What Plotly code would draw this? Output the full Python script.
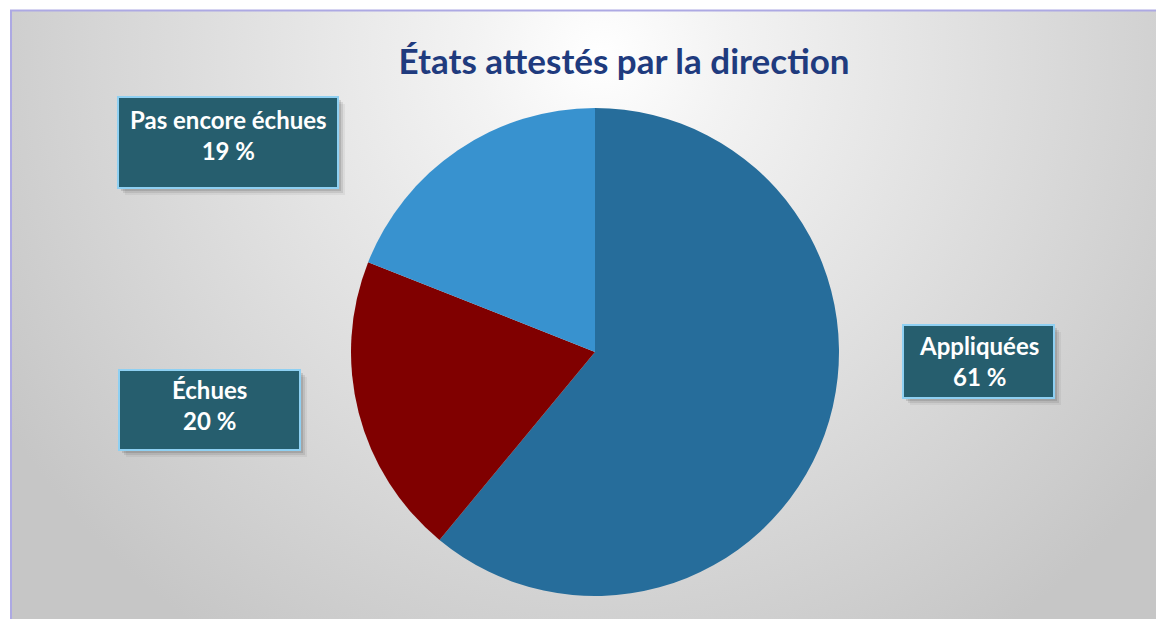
import base64
import plotly.graph_objects as go

# Data
labels = ["Appliquées", "Échues", "Pas encore échues"]
values = [61, 20, 19]
colors = ["#266D9B", "#800000", "#3892CF"]
title_text = "États attestés par la direction"

# the page body adds an 8px margin, so the figure is drawn 8px smaller
OFF = 8
W, H = 1164 - OFF, 619 - OFF

def px(x):
    return (x - OFF) / W

def py(y):
    return 1 - (y - OFF) / H

# background: radial grey gradient inside a thin lilac frame
bg_svg = """<svg xmlns='http://www.w3.org/2000/svg' width='1153' height='609'>
<defs><radialGradient id='g' gradientUnits='userSpaceOnUse' cx='590' cy='45' r='700'>
<stop offset='0' stop-color='#FFFFFF'/><stop offset='0.18' stop-color='#F3F3F3'/>
<stop offset='0.6' stop-color='#DCDCDC'/><stop offset='1' stop-color='#C6C6C6'/>
</radialGradient></defs>
<rect width='1153' height='609' fill='url(#g)'/></svg>"""
bg_src = "data:image/svg+xml;base64," + base64.b64encode(bg_svg.encode()).decode()

fig = go.Figure()
fig.add_trace(go.Pie(
    labels=labels, values=values, sort=False, direction="clockwise", rotation=0,
    marker=dict(colors=colors, line=dict(width=0)),
    textinfo="none", hoverinfo="label+percent", showlegend=False,
    domain=dict(x=[px(351), px(839)], y=[py(596), py(108)]),
))

# label boxes: left, top, right, bottom, text centre y (pixels)
boxes = {
    "Appliquées": (903, 325, 1054, 398, 361),
    "Échues": (119, 370, 300, 450, 405),
    "Pas encore échues": (118, 97, 338, 188, 135),
}
total = sum(values)
for lab, val in zip(labels, values):
    x0, y0, x1, y1, ty = boxes[lab]
    # soft shadow
    for off, a in [(7, 0.06), (5, 0.10), (3, 0.14)]:
        fig.add_shape(type="rect", xref="paper", yref="paper",
                      x0=px(x0 + off), x1=px(x1 + off), y0=py(y1 + off), y1=py(y0 + off),
                      line=dict(width=0), fillcolor=f"rgba(40,40,40,{a})")
    fig.add_shape(type="rect", xref="paper", yref="paper",
                  x0=px(x0), x1=px(x1), y0=py(y1), y1=py(y0),
                  line=dict(color="#8FD0F2", width=2), fillcolor="#265E6E")
    pct = round(val / total * 100)
    fig.add_annotation(x=px((x0 + x1) / 2), y=py(ty), xref="paper", yref="paper",
                       text=f"<b>{lab}</b><br><b>{pct} %</b>", showarrow=False,
                       xanchor="center", yanchor="middle",
                       font=dict(family="Lato", size=24, color="white"), align="center")

fig.add_layout_image(source=bg_src, xref="paper", yref="paper",
                     x=px(11), y=py(10), sizex=1153 / W, sizey=609 / H,
                     sizing="stretch", layer="below", xanchor="left", yanchor="top")
fig.add_shape(type="rect", xref="paper", yref="paper",
              x0=px(11), x1=1.01, y0=-0.01, y1=py(10.5),
              line=dict(color="#ADA9E3", width=2), fillcolor="rgba(0,0,0,0)", layer="below")

fig.update_layout(
    width=W, height=H,
    margin=dict(l=0, r=0, t=0, b=0),
    paper_bgcolor="white", plot_bgcolor="rgba(0,0,0,0)",
    title=dict(text=f"<b>{title_text}</b>", x=px(624), xanchor="center",
               y=py(62), yanchor="middle",
               font=dict(family="Lato", size=35, color="#1F3B7E")),
)

fig.write_html("out.html")
